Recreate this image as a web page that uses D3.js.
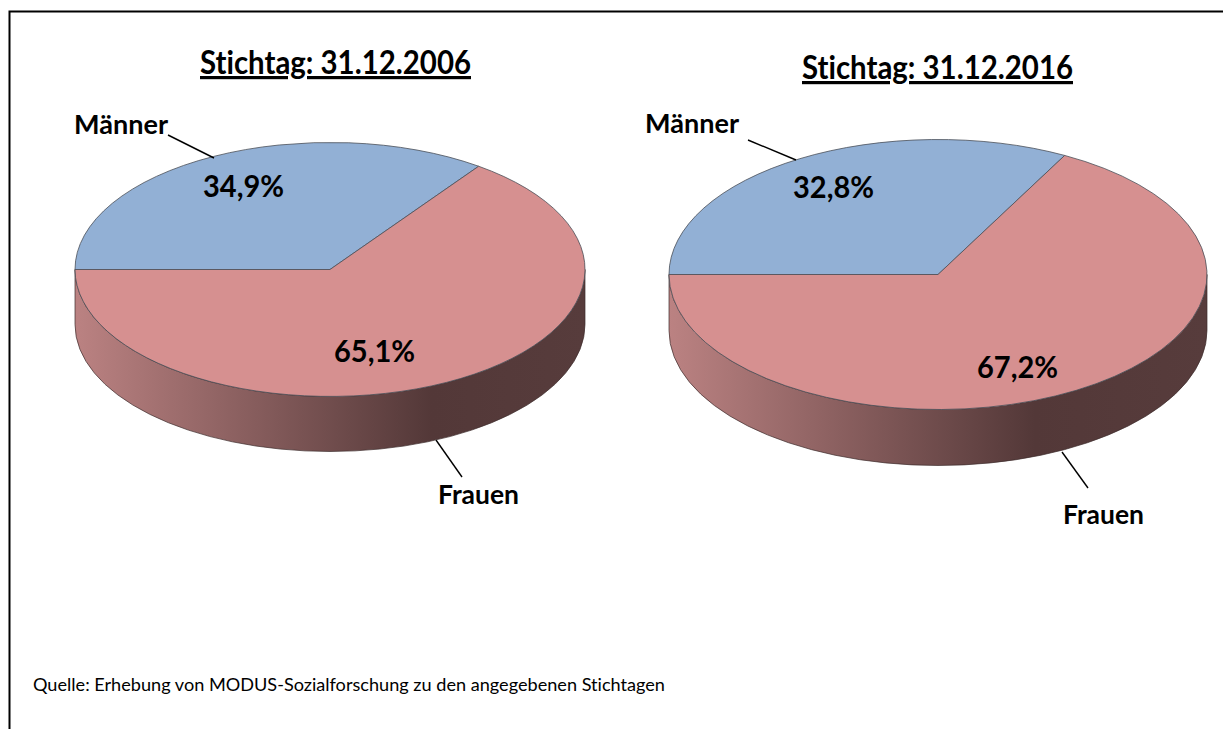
<!DOCTYPE html>
<html><head><meta charset="utf-8">
<script src="https://cdn.jsdelivr.net/npm/d3@7/dist/d3.min.js"></script>
<style>html,body{margin:0;padding:0;background:#fff;overflow:hidden}svg{display:block}text{font-family:Lato,"Open Sans",sans-serif;fill:#000;font-variant-ligatures:none}</style>
</head><body><svg id="c" width="1223" height="729"></svg>
<script>
const categories = ["Männer", "Frauen"];
const titles = ["Stichtag: 31.12.2006", "Stichtag: 31.12.2016"];
const values2006 = [34.9, 65.1];
const values2016 = [32.8, 67.2];
const labels2006 = ["34,9%", "65,1%"];
const labels2016 = ["32,8%", "67,2%"];
const source = "Quelle: Erhebung von MODUS-Sozialforschung zu den angegebenen Stichtagen";
const colors = ["#92b0d5", "#d69090"];

const layouts = [
 {cx:330, cy:269.5, rx:255, ry:127, d:55, values:values2006, labels:labels2006, title:titles[0],
  titlePos:[200,74,271], pct:[[203,197],[334,362]], name:[[74,134,94],[438,504,81]],
  lead:[[168,135,214,158],[436,440,462,477]], darkAt:.7},
 {cx:938, cy:274.5, rx:269, ry:135, d:56, values:values2016, labels:labels2016, title:titles[1],
  titlePos:[802,79,271], pct:[[793,198],[977,378]], name:[[645,133,94],[1063,524,81]],
  lead:[[748,140,796,160],[1062,452,1088,488]], darkAt:.68}
];

const svg = d3.select("#c");
const defs = svg.append("defs");
const pie = d3.pie().sort(null).startAngle(-Math.PI/2).endAngle(Math.PI*1.5);
const arc = d3.arc().innerRadius(0).outerRadius(1);

function txt(s,x,y,size,w,weight){
  const t = svg.append("text").attr("x",x).attr("y",y).attr("font-size",size).attr("font-weight",weight).text(s);
  if(w) t.attr("textLength",w).attr("lengthAdjust","spacingAndGlyphs");
  return t;
}

layouts.forEach((L,i)=>{
  const g = defs.append("linearGradient").attr("id","wall"+i);
  [[0,"#bb8282"],[L.darkAt,"#533838"],[1,"#573c3c"]]
    .forEach(([o,c])=>g.append("stop").attr("offset",o).attr("stop-color",c));

  svg.append("path")
    .attr("d",`M${L.cx-L.rx},${L.cy}A${L.rx},${L.ry} 0 0 0 ${L.cx+L.rx},${L.cy}V${L.cy+L.d}A${L.rx},${L.ry} 0 0 1 ${L.cx-L.rx},${L.cy+L.d}Z`)
    .attr("fill",`url(#wall${i})`).attr("stroke","#3d2c2c").attr("stroke-width",.7);

  const top = svg.append("g").attr("transform",`translate(${L.cx},${L.cy}) scale(${L.rx},${L.ry})`);
  top.selectAll("path").data(pie(L.values)).join("path")
    .attr("d",arc).attr("fill",(d,k)=>colors[k])
    .attr("stroke","#4a4f58").attr("stroke-width",.8).attr("vector-effect","non-scaling-stroke");

  L.lead.forEach(l=>svg.append("line").attr("x1",l[0]).attr("y1",l[1]).attr("x2",l[2]).attr("y2",l[3])
    .attr("stroke","#000").attr("stroke-width",1.4));

  txt(L.title,L.titlePos[0],L.titlePos[1],32,L.titlePos[2],700).attr("text-decoration","underline");
  L.labels.forEach((s,k)=>txt(s,L.pct[k][0],L.pct[k][1],30,81,700));
  categories.forEach((s,k)=>txt(s,L.name[k][0],L.name[k][1],26,L.name[k][2],700));
});

txt(source,33,691,17,632,400).attr("fill","#111");

svg.append("path").attr("d","M9.5,729V11.5H1223").attr("fill","none").attr("stroke","#000").attr("stroke-width",2);
</script></body></html>
